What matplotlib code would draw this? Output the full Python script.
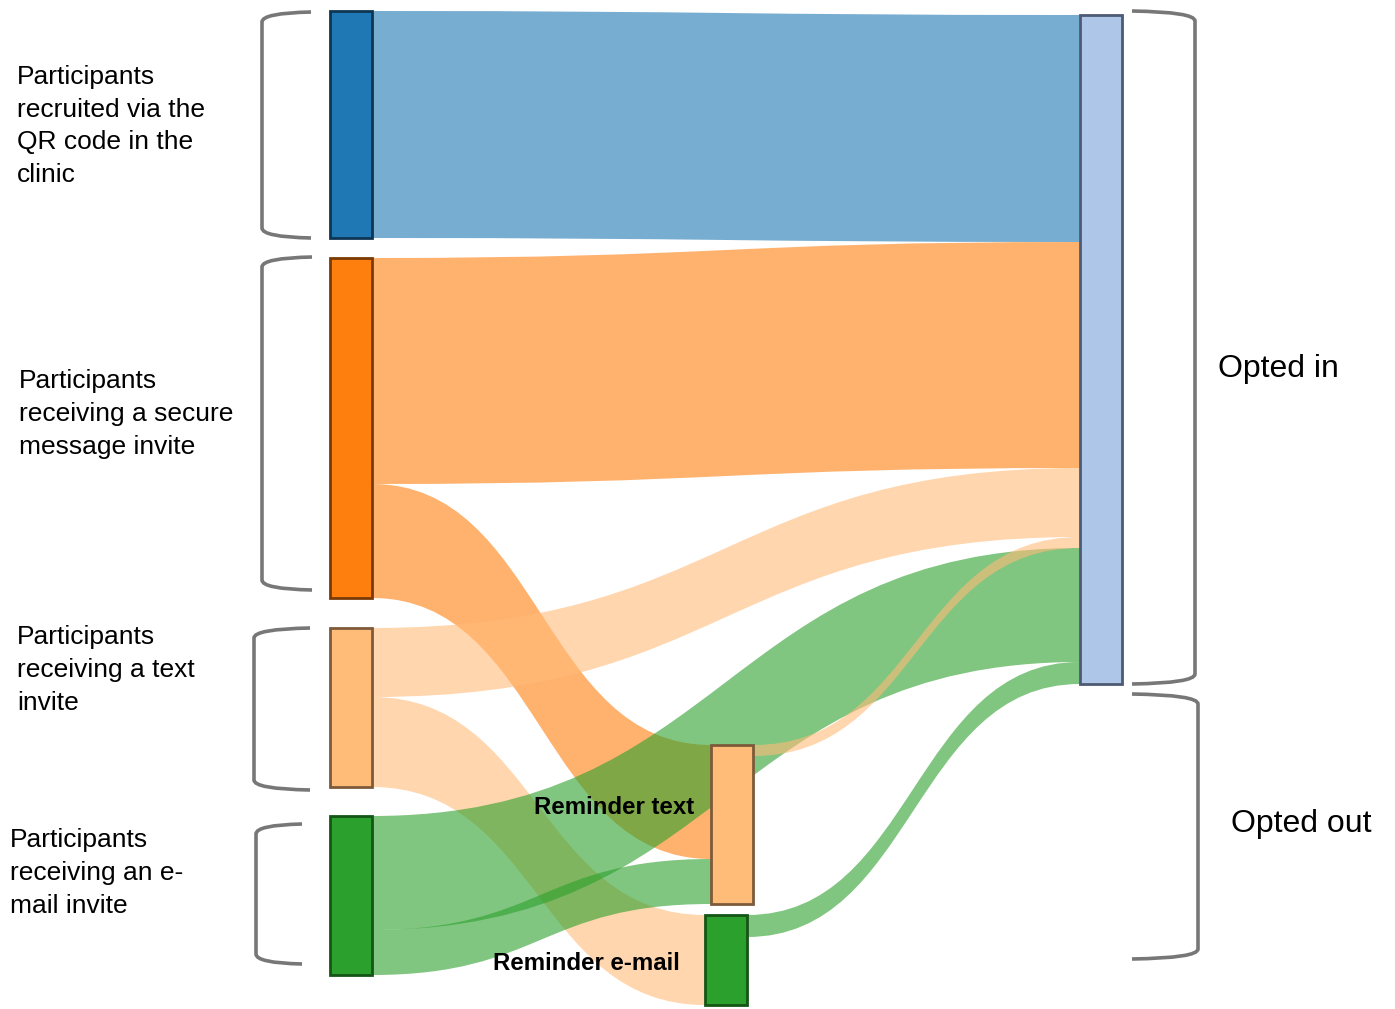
import numpy as np
import matplotlib.pyplot as plt
from matplotlib.path import Path
from matplotlib.patches import PathPatch, Rectangle

plt.rcParams['font.family'] = ['Liberation Sans', 'DejaVu Sans']

# ---- data ----
node_names = ['QR code', 'Secure message', 'Text invite', 'E-mail invite',
              'Reminder text', 'Reminder e-mail', 'Opted in', 'Opted out']
node_colors = ['#1f77b4', '#ff7f0e', '#ffbb78', '#2ca02c',
               '#ffbb78', '#2ca02c', '#aec7e8', 'none']
node_edges = ['#0e3553', '#7a3a05', '#7d5a3a', '#155515',
              '#7d5a3a', '#155515', '#4d5a73', 'none']

link_src = [0, 1, 1, 2, 2, 3, 3, 4, 4, 5, 5]
link_tgt = [6, 6, 4, 6, 5, 6, 4, 6, 7, 6, 7]
link_val = [227, 226, 114, 69, 90, 114, 45, 11, 148, 22, 68]

left_labels = ['Participants\nrecruited via the\nQR code in the\nclinic',
               'Participants\nreceiving a secure\nmessage invite',
               'Participants\nreceiving a text\ninvite',
               'Participants\nreceiving an e-\nmail invite']

# ---- layout ----
W, H = 1395, 1009
NW = 42
node_x = [330, 330, 330, 330, 711, 705, 1080, 1080]
node_top = [11, 258, 628, 816, 745, 915, 15, 693]

n = len(node_names)
vin = np.zeros(n)
vout = np.zeros(n)
for s, t, v in zip(link_src, link_tgt, link_val):
    vout[s] += v
    vin[t] += v
node_h = np.maximum(vin, vout)
node_c = np.array(node_top) + node_h / 2

# stack link ends: outgoing sorted by target centre, incoming by source centre
order = range(len(link_val))
y_src = {}
y_tgt = {}
for k in range(n):
    y = node_top[k]
    for i in sorted([i for i in order if link_src[i] == k], key=lambda i: node_c[link_tgt[i]]):
        y_src[i] = y
        y += link_val[i]
    y = node_top[k]
    for i in sorted([i for i in order if link_tgt[i] == k], key=lambda i: node_c[link_src[i]]):
        y_tgt[i] = y
        y += link_val[i]

fig = plt.figure(figsize=(W / 100, H / 100), dpi=100)
ax = fig.add_axes([0, 0, 1, 1])
ax.set_xlim(0, W)
ax.set_ylim(H, 0)
ax.axis('off')

# links
for i in order:
    s, t, v = link_src[i], link_tgt[i], link_val[i]
    if node_names[t] == 'Opted out':
        continue  # opted-out flows are not shown
    x0 = node_x[s] + NW
    x1 = node_x[t]
    xm = (x0 + x1) / 2
    a0, a1 = y_src[i], y_tgt[i]
    b0, b1 = a0 + v, a1 + v
    verts = [(x0, a0), (xm, a0), (xm, a1), (x1, a1), (x1, b1),
             (xm, b1), (xm, b0), (x0, b0), (x0, a0)]
    codes = [Path.MOVETO, Path.CURVE4, Path.CURVE4, Path.CURVE4, Path.LINETO,
             Path.CURVE4, Path.CURVE4, Path.CURVE4, Path.CLOSEPOLY]
    ax.add_patch(PathPatch(Path(verts, codes), facecolor=node_colors[s],
                           edgecolor='none', alpha=0.6, zorder=1))

# nodes
for k in range(n):
    if node_colors[k] == 'none':
        continue
    ax.add_patch(Rectangle((node_x[k], node_top[k]), NW, node_h[k],
                           facecolor=node_colors[k], edgecolor=node_edges[k],
                           linewidth=2, zorder=3))


def bracket(xv, xa, top, bot, r=10):
    verts = [(xa, top), (xv, top + 1), (xv, top + r), (xv, bot - r),
             (xv, bot - 1), (xa, bot)]
    codes = [Path.MOVETO, Path.CURVE3, Path.CURVE3, Path.LINETO,
             Path.CURVE3, Path.CURVE3]
    ax.add_patch(PathPatch(Path(verts, codes), facecolor='none',
                           edgecolor='#777777', linewidth=2.6, zorder=2))


bracket(262, 311, 12, 238)
bracket(262, 312, 257, 590)
bracket(254, 310, 628, 790)
bracket(256, 302, 824, 964)
bracket(1195, 1132, 11, 684)
bracket(1198, 1132, 694, 959)

# labels
label_x = [17, 19, 17, 10]
label_y = [126, 414, 670, 873]
for txt, x, y in zip(left_labels, label_x, label_y):
    ax.text(x, y, txt, fontsize=19, ha='left', va='center', linespacing=1.45)

ax.text(1218, 369, 'Opted in', fontsize=23, ha='left', va='center')
ax.text(1231, 824, 'Opted out', fontsize=23, ha='left', va='center')
ax.text(694, 808, 'Reminder text', fontsize=17.3, fontweight='bold',
        ha='right', va='center', zorder=4)
ax.text(680, 963, 'Reminder e-mail', fontsize=17.3, fontweight='bold',
        ha='right', va='center', zorder=4)

fig.savefig('out.png', dpi=100)
